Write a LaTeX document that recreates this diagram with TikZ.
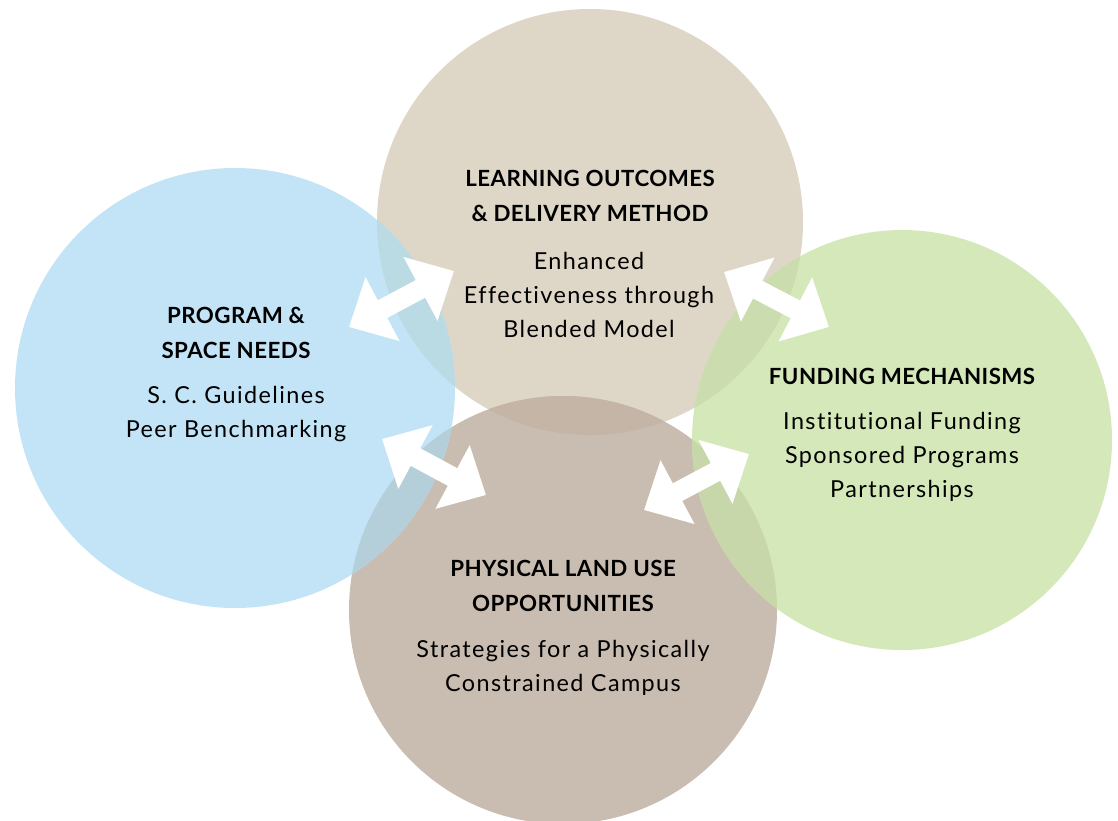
\documentclass[tikz,border=0pt]{standalone}
\usepackage{fontspec}
\setmainfont{Lato}
\newfontfamily\titlefont[LetterSpace=2]{Lato}
\newfontfamily\bodyfont[LetterSpace=6,Ligatures=NoCommon]{Lato}
\usetikzlibrary{arrows.meta}
\definecolor{cblue}{RGB}{195,228,247}
\definecolor{ctan}{RGB}{222,215,200}
\definecolor{cgreen}{RGB}{213,232,185}
\definecolor{cbrown}{RGB}{201,188,176}
\definecolor{cbt}{RGB}{186,218,228}
\definecolor{cbb}{RGB}{180,207,218}
\definecolor{ctg}{RGB}{203,220,174}
\definecolor{cbg}{RGB}{200,215,170}
\definecolor{ctb}{RGB}{196,181,167}
\begin{document}
\begin{tikzpicture}[x=1pt,y=-1pt,
  title/.style={align=center,font=\titlefont\bfseries\fontsize{22.3}{35}\selectfont,inner sep=0pt},
  body/.style={align=center,font=\bodyfont\fontsize{23.4}{34}\selectfont,inner sep=0pt},
  dbl/.style={draw=white,line width=20pt,{Triangle[length=38pt,width=70pt]}-{Triangle[length=38pt,width=70pt]}}]
\useasboundingbox (0,0) rectangle (1118,820);
\clip (0,0) rectangle (1118,820);
\fill[white] (0,0) rectangle (1118,820);
\coordinate (cB) at (235,388);
\coordinate (cT) at (590,222);
\coordinate (cG) at (902,440);
\coordinate (cR) at (563,610);
\def\rB{220pt}\def\rT{213pt}\def\rG{210pt}\def\rR{214pt}
\fill[ctan] (cT) circle[radius=\rT];
\fill[cbrown] (cR) circle[radius=\rR];
\fill[cblue] (cB) circle[radius=\rB];
\fill[cgreen] (cG) circle[radius=\rG];
\begin{scope}\clip (cT) circle[radius=\rT]; \fill[ctb] (cR) circle[radius=\rR];\end{scope}
\begin{scope}\clip (cB) circle[radius=\rB]; \fill[cbt] (cT) circle[radius=\rT];\end{scope}
\begin{scope}\clip (cB) circle[radius=\rB]; \fill[cbb] (cR) circle[radius=\rR];\end{scope}
\begin{scope}\clip (cG) circle[radius=\rG]; \fill[ctg] (cT) circle[radius=\rT];\end{scope}
\begin{scope}\clip (cG) circle[radius=\rG]; \fill[cbg] (cR) circle[radius=\rR];\end{scope}
% texts
\node[title] (tB) at (236,333) {PROGRAM \&\\SPACE NEEDS};
\node[body] (bB) at (236,414) {S. C. Guidelines\\Peer Benchmarking};
\node[title] (tT) at (590,196) {LEARNING OUTCOMES\\\& DELIVERY METHOD};
\node[body] (bT) at (589,295) {Enhanced\\Effectiveness through\\Blended Model};
\node[title] (tG) at (902,376) {FUNDING MECHANISMS};
\node[body] (bG) at (902,457) {Institutional Funding\\Sponsored Programs\\Partnerships};
\node[title] (tR) at (563,586) {PHYSICAL LAND USE\\OPPORTUNITIES};
\node[body] (bR) at (563,668) {Strategies for a Physically\\Constrained Campus};
% arrows
\coordinate (a1) at (349,327); \coordinate (a2) at (454,271);
\coordinate (b1) at (382,439); \coordinate (b2) at (486,495);
\coordinate (c1) at (724,272); \coordinate (c2) at (829,327);
\coordinate (d1) at (644,510); \coordinate (d2) at (749,454);
\draw[dbl] (a1) -- (a2);
\draw[dbl] (b1) -- (b2);
\draw[dbl] (c1) -- (c2);
\draw[dbl] (d1) -- (d2);
\end{tikzpicture}
\end{document}
